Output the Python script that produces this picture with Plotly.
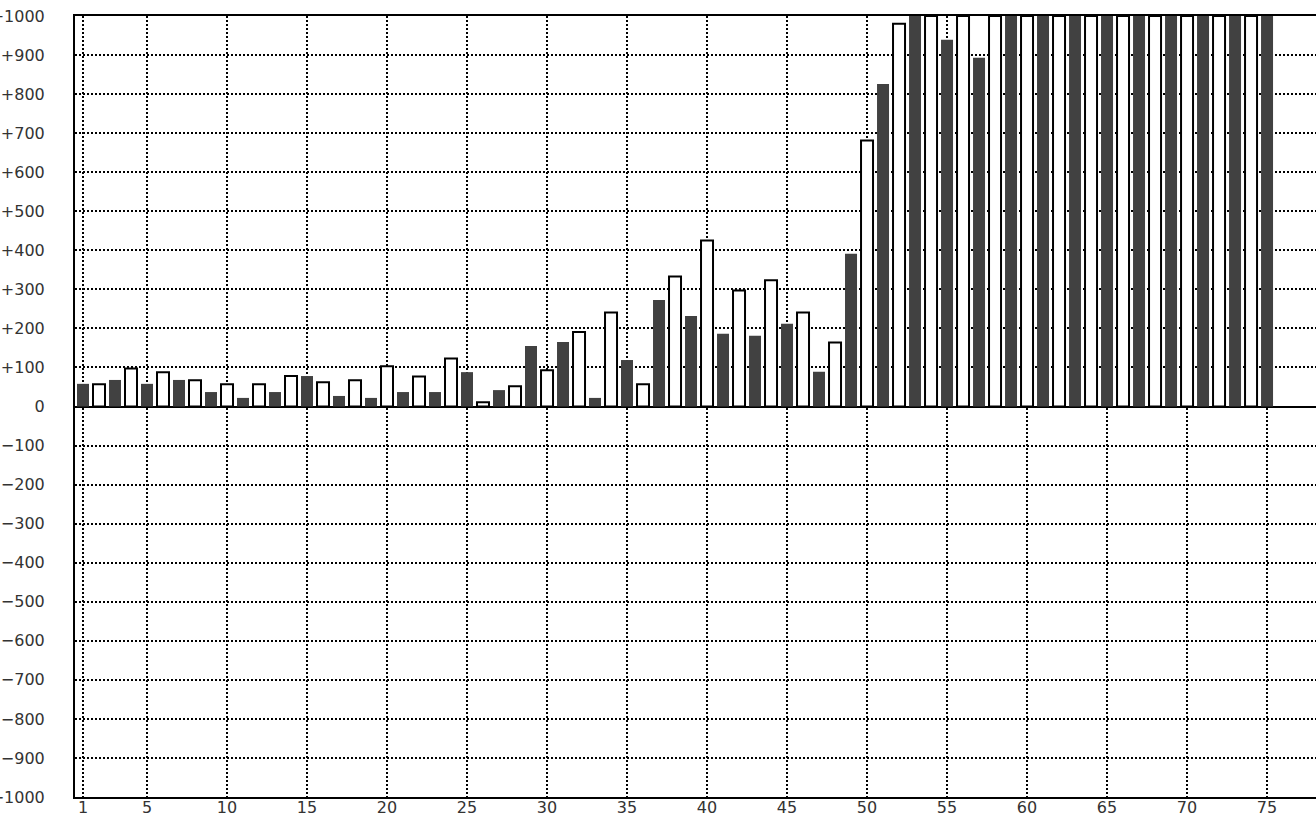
import plotly.graph_objects as go

# x positions 1..75, odd = dark bars, even = white bars
dark_x = list(range(1, 76, 2))
dark_vals = [58, 68, 58, 68, 37, 22, 37, 78, 27, 22, 37, 37, 88, 42, 155, 165, 22, 119,
             273, 232, 186, 181, 212, 89, 391, 826, 1000, 939, 893,
             1000, 1000, 1000, 1000, 1000, 1000, 1000, 1000, 1000]
white_x = list(range(2, 76, 2))
white_vals = [57, 97, 88, 67, 57, 57, 78, 62, 67, 103, 77, 123, 11, 52, 93, 191, 241, 57,
              333, 425, 297, 323, 241, 164, 681, 980,
              1000, 1000, 1000, 1000, 1000, 1000, 1000, 1000, 1000, 1000, 1000]

x_tickvals = [1, 5, 10, 15, 20, 25, 30, 35, 40, 45, 50, 55, 60, 65, 70, 75]
y_tickvals = list(range(-1000, 1001, 100))
y_ticktext = [("+%d" % v if v > 0 else ("0" if v == 0 else "\u2212%d" % abs(v))) for v in y_tickvals]

fig = go.Figure()
fig.add_trace(go.Bar(x=dark_x, y=dark_vals, width=0.75,
                     marker=dict(color="#414141", line=dict(width=0)),
                     showlegend=False, hoverinfo="x+y"))
fig.add_trace(go.Bar(x=white_x, y=white_vals, width=0.75,
                     marker=dict(color="#ffffff", line=dict(color="#000000", width=2)),
                     showlegend=False, hoverinfo="x+y"))

font = dict(family="DejaVu Sans", size=16, color="#333333")

fig.update_layout(
    width=1316, height=818,
    margin=dict(l=75, r=0, t=16, b=21, pad=0),
    paper_bgcolor="white", plot_bgcolor="white",
    barmode="overlay",
    font=font,
    xaxis=dict(range=[0.5, 78.06], tickvals=x_tickvals, ticktext=[str(v) for v in x_tickvals],
               showgrid=True, gridcolor="#000000", gridwidth=1.5, griddash="2px,2px",
               showline=True, linecolor="#000000", linewidth=2, mirror=True,
               ticks="", zeroline=False, tickfont=font, ticklabelstandoff=-5,
               automargin=False),
    yaxis=dict(range=[-1000, 1000], tickvals=y_tickvals, ticktext=y_ticktext,
               showgrid=True, gridcolor="#000000", gridwidth=1.5, griddash="2px,2px",
               showline=True, linecolor="#000000", linewidth=2, mirror=False,
               zeroline=True, zerolinecolor="#000000", zerolinewidth=2,
               ticks="", tickfont=font, ticklabelstandoff=25, automargin=False),
)

fig.write_html("out.html", config={"displayModeBar": False},
               post_script="document.body.style.margin='0';document.body.style.overflow='hidden';")
